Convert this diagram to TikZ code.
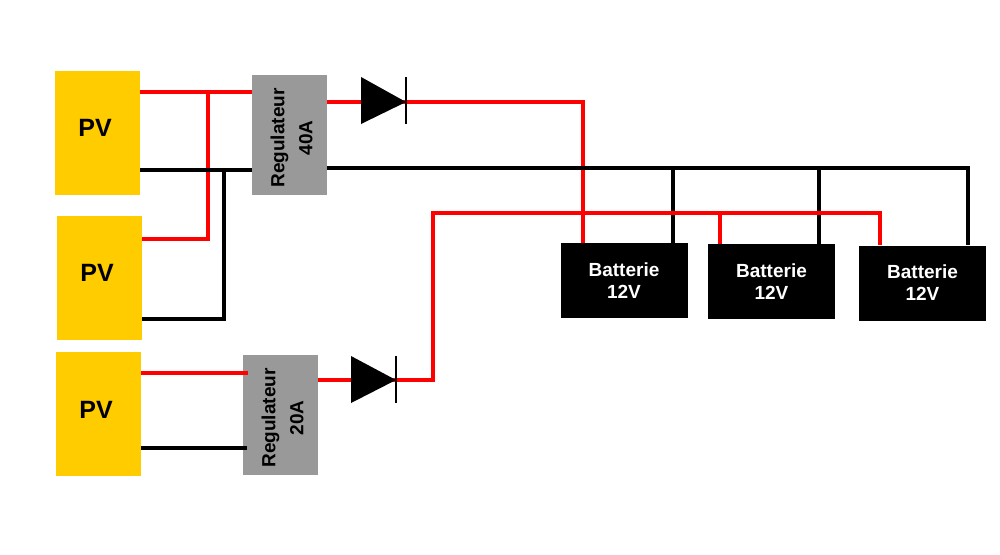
\documentclass[tikz,border=0pt]{standalone}
\usepackage{fontspec}
\setmainfont{Liberation Sans}
\usetikzlibrary{calc}
\definecolor{pvyellow}{HTML}{FFCC00}
\definecolor{reggray}{HTML}{999999}
\definecolor{wred}{HTML}{FF0000}
\tikzset{
  pvbox/.style={fill=pvyellow, minimum width=85pt, minimum height=124pt, inner sep=0pt, font=\fontsize{25}{28}\selectfont\bfseries},
  regbox/.style={fill=reggray, minimum width=75pt, minimum height=120pt, inner sep=0pt},
  regtext/.style={rotate=90, align=center, font=\fontsize{19}{28}\selectfont\bfseries, inner sep=0pt},
  batbox/.style={fill=black, text=white, minimum width=127pt, minimum height=75pt, inner sep=0pt, align=center, font=\fontsize{19}{22}\selectfont\bfseries},
  plus/.style={draw=wred, line width=4pt, line join=miter},
  minus/.style={draw=black, line width=4pt, line join=miter},
  drop/.style={draw=black, line width=3.5pt, line join=miter},
}
\begin{document}
\begin{tikzpicture}[x=1pt,y=-1pt]
\useasboundingbox[fill=white] (0,0) rectangle (1000,554);
% PV panels
\node[pvbox] (pv1) at (97.5,133) {};
\node[pvbox] (pv2) at (99,278) {};
\node[pvbox] (pv3) at (98.5,414) {};
\node[font=\fontsize{25}{28}\selectfont\bfseries, inner sep=0pt] (pv1t) at (95,128) {PV};
\node[font=\fontsize{25}{28}\selectfont\bfseries, inner sep=0pt] (pv2t) at (97,273) {PV};
\node[font=\fontsize{25}{28}\selectfont\bfseries, inner sep=0pt] (pv3t) at (96,410) {PV};
% Regulators
\node[regbox] (reg40) at (289.5,135) {};
\node[regbox] (reg20) at (280.5,415) {};
\node[regtext] (reg40t) at (291.5,138) {Regulateur\\40A};
\node[regtext] (reg20t) at (282.5,418) {Regulateur\\20A};
% Batteries
\node[batbox] (bat1) at (624,280.5) {Batterie\\12V};
\node[batbox] (bat2) at (771.5,281.5) {Batterie\\12V};
\node[batbox] (bat3) at (922.5,283) {Batterie\\12V};
% junction coordinates
\coordinate (j1) at (208,92);
\coordinate (j2) at (224,170);
\coordinate (d1a) at (361,102);
\coordinate (d1k) at (406,102);
\coordinate (d2a) at (351,380);
\coordinate (d2k) at (396,380);
\coordinate (r1) at (583,102);
\coordinate (r2) at (433,380);
\coordinate (r3) at (433,213);
\coordinate (r4) at (880,213);
\coordinate (b1) at (968,168);
% PV1/PV2 to regulator 40A
\draw[plus] (pv1.east |- j1) -- (reg40.west |- j1);
\draw[plus] (j1) -- (j1 |- 0,239) -- (pv2.east |- 0,239);
\draw[minus] (pv1.east |- j2) -- (reg40.west |- j2);
\draw[minus] (j2) -- (j2 |- 0,319) -- (pv2.east |- 0,319);
% PV3 to regulator 20A
\draw[plus] (pv3.east |- 0,373) -- (248,373);
\draw[minus] (pv3.east |- 0,448) -- (247,448);
% regulator 40A outputs
\draw[plus] (reg40.east |- d1a) -- (d1k) -- (r1) -- (r1 |- bat1.north);
\draw[minus] (reg40.east |- b1) -- (b1) -- (b1 |- bat3.north);
\draw[drop] (673,168) -- (673,0 |- bat1.north);
\draw[drop] (819,168) -- (819,0 |- bat2.north);
% regulator 20A output
\draw[plus] (reg20.east |- d2a) -- (d2k) -- (r2) -- (r3) -- (r4) -- (r4 |- bat3.north);
\draw[plus] (720,213) -- (720,0 |- bat2.north);
% diodes
\fill (361,77) -- (361,124) -- (d1k) -- cycle;
\draw[line width=2pt] (406,77) -- (406,124);
\fill (351,356) -- (351,403) -- (d2k) -- cycle;
\draw[line width=2pt] (396,356) -- (396,403);
\end{tikzpicture}
\end{document}
